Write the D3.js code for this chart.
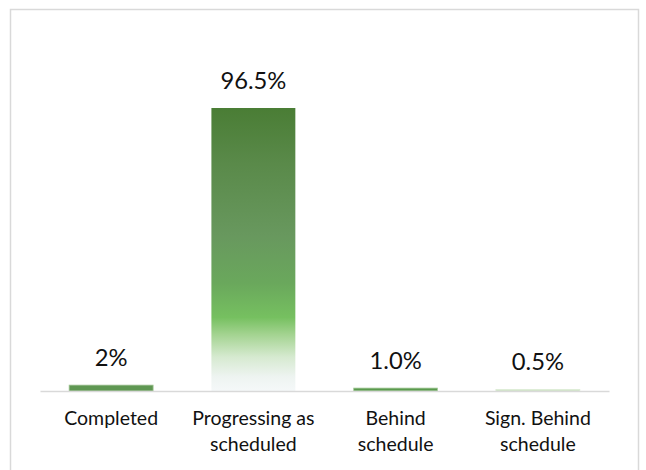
<!DOCTYPE html>
<html>
<head>
<meta charset="utf-8">
<script src="https://cdn.jsdelivr.net/npm/d3@7"></script>
<style>
  html, body { margin: 0; padding: 0; background: #fff; }
  svg { display: block; }
</style>
</head>
<body>
<svg id="chart" width="646" height="470"></svg>
<script>
// ---- data ----
const categories = ["Completed", "Progressing as scheduled", "Behind schedule", "Sign. Behind schedule"];
const categoryLines = [["Completed"], ["Progressing as", "scheduled"], ["Behind", "schedule"], ["Sign. Behind", "schedule"]];
const values = [2, 96.5, 1.0, 0.5];
const valueLabels = ["2%", "96.5%", "1.0%", "0.5%"];

// ---- styles ----
const barFills = ["#5f9752", "url(#gradTall)", "#5a9a4d", "#c9e1be"];
const barStrokes = ["#9cc08f", "none", "#a8cc9c", "#dcecd5"];
const FONT = "Lato, 'Liberation Sans', Arial, sans-serif";

const svg = d3.select("#chart");
const margin = { left: 40, right: 37, top: 98, bottom: 79 };
const W = 646, H = 470;

// pick font sizes so text widths match the reference
function fitSize(str, targetWidth) {
  const t = svg.append("text").style("font-family", FONT).style("font-size", "100px").text(str);
  const w = t.node().getComputedTextLength();
  t.remove();
  return 100 * targetWidth / w;
}
const catSize = fitSize("Completed", 94);
const valSize = fitSize("96.5%", 66);

// frame
svg.append("rect")
  .attr("x", 10.5).attr("y", 9.5)
  .attr("width", 628).attr("height", 480)
  .attr("fill", "#fff")
  .attr("stroke", "#d9d9d9").attr("stroke-width", 1.5);

// gradient for tall bar
const defs = svg.append("defs");
const g = defs.append("linearGradient").attr("id", "gradTall")
  .attr("x1", 0).attr("y1", 0).attr("x2", 0).attr("y2", 1);
[
  [0, "#4a7d35"],
  [0.2, "#5a8a4a"],
  [0.45, "#68985e"],
  [0.62, "#6aa85c"],
  [0.74, "#76c060"],
  [0.8, "#a3d390"],
  [0.88, "#d6ead0"],
  [0.95, "#eef4f1"],
  [1, "#f5f8f9"]
].forEach(([o, c]) => g.append("stop").attr("offset", o).attr("stop-color", c));

const x = d3.scaleBand()
  .domain(categories)
  .range([margin.left, W - margin.right])
  .paddingInner(0.41)
  .paddingOuter(0.205);

const y0 = H - margin.bottom; // 391
const y = d3.scaleLinear()
  .domain([0, 100])
  .range([y0, y0 - 283 / 0.965]);

// bars
svg.append("g").selectAll("rect")
  .data(categories)
  .join("rect")
  .attr("x", (d) => x(d))
  .attr("width", x.bandwidth())
  .attr("y", (d, i) => y(values[i]))
  .attr("height", (d, i) => y(0) - y(values[i]))
  .attr("fill", (d, i) => barFills[i])
  .attr("stroke", (d, i) => barStrokes[i])
  .attr("stroke-width", 0.8);

// axis
const axis = d3.axisBottom(x).tickSize(0).tickSizeOuter(0).tickFormat(() => "");
const ax = svg.append("g")
  .attr("transform", `translate(0,${y0})`)
  .call(axis);
ax.select(".domain").attr("stroke", "#d9d9d9").attr("stroke-width", 1.5);

ax.selectAll(".tick text").remove();
ax.selectAll(".tick").each(function (d, i) {
  const t = d3.select(this).append("text")
    .attr("text-anchor", "middle")
    .attr("fill", "#111")
    .style("font-family", FONT)
    .style("font-size", catSize + "px");
  categoryLines[i].forEach((line, j) => {
    t.append("tspan").attr("x", 0).attr("y", 34 + j * 26).text(line);
  });
});

// value labels
svg.append("g").selectAll("text")
  .data(categories)
  .join("text")
  .attr("x", (d) => x(d) + x.bandwidth() / 2)
  .attr("y", (d, i) => y(values[i]) - 19.5)
  .attr("text-anchor", "middle")
  .attr("fill", "#111")
  .style("font-family", FONT)
  .style("font-size", valSize + "px")
  .text((d, i) => valueLabels[i]);
</script>
</body>
</html>
